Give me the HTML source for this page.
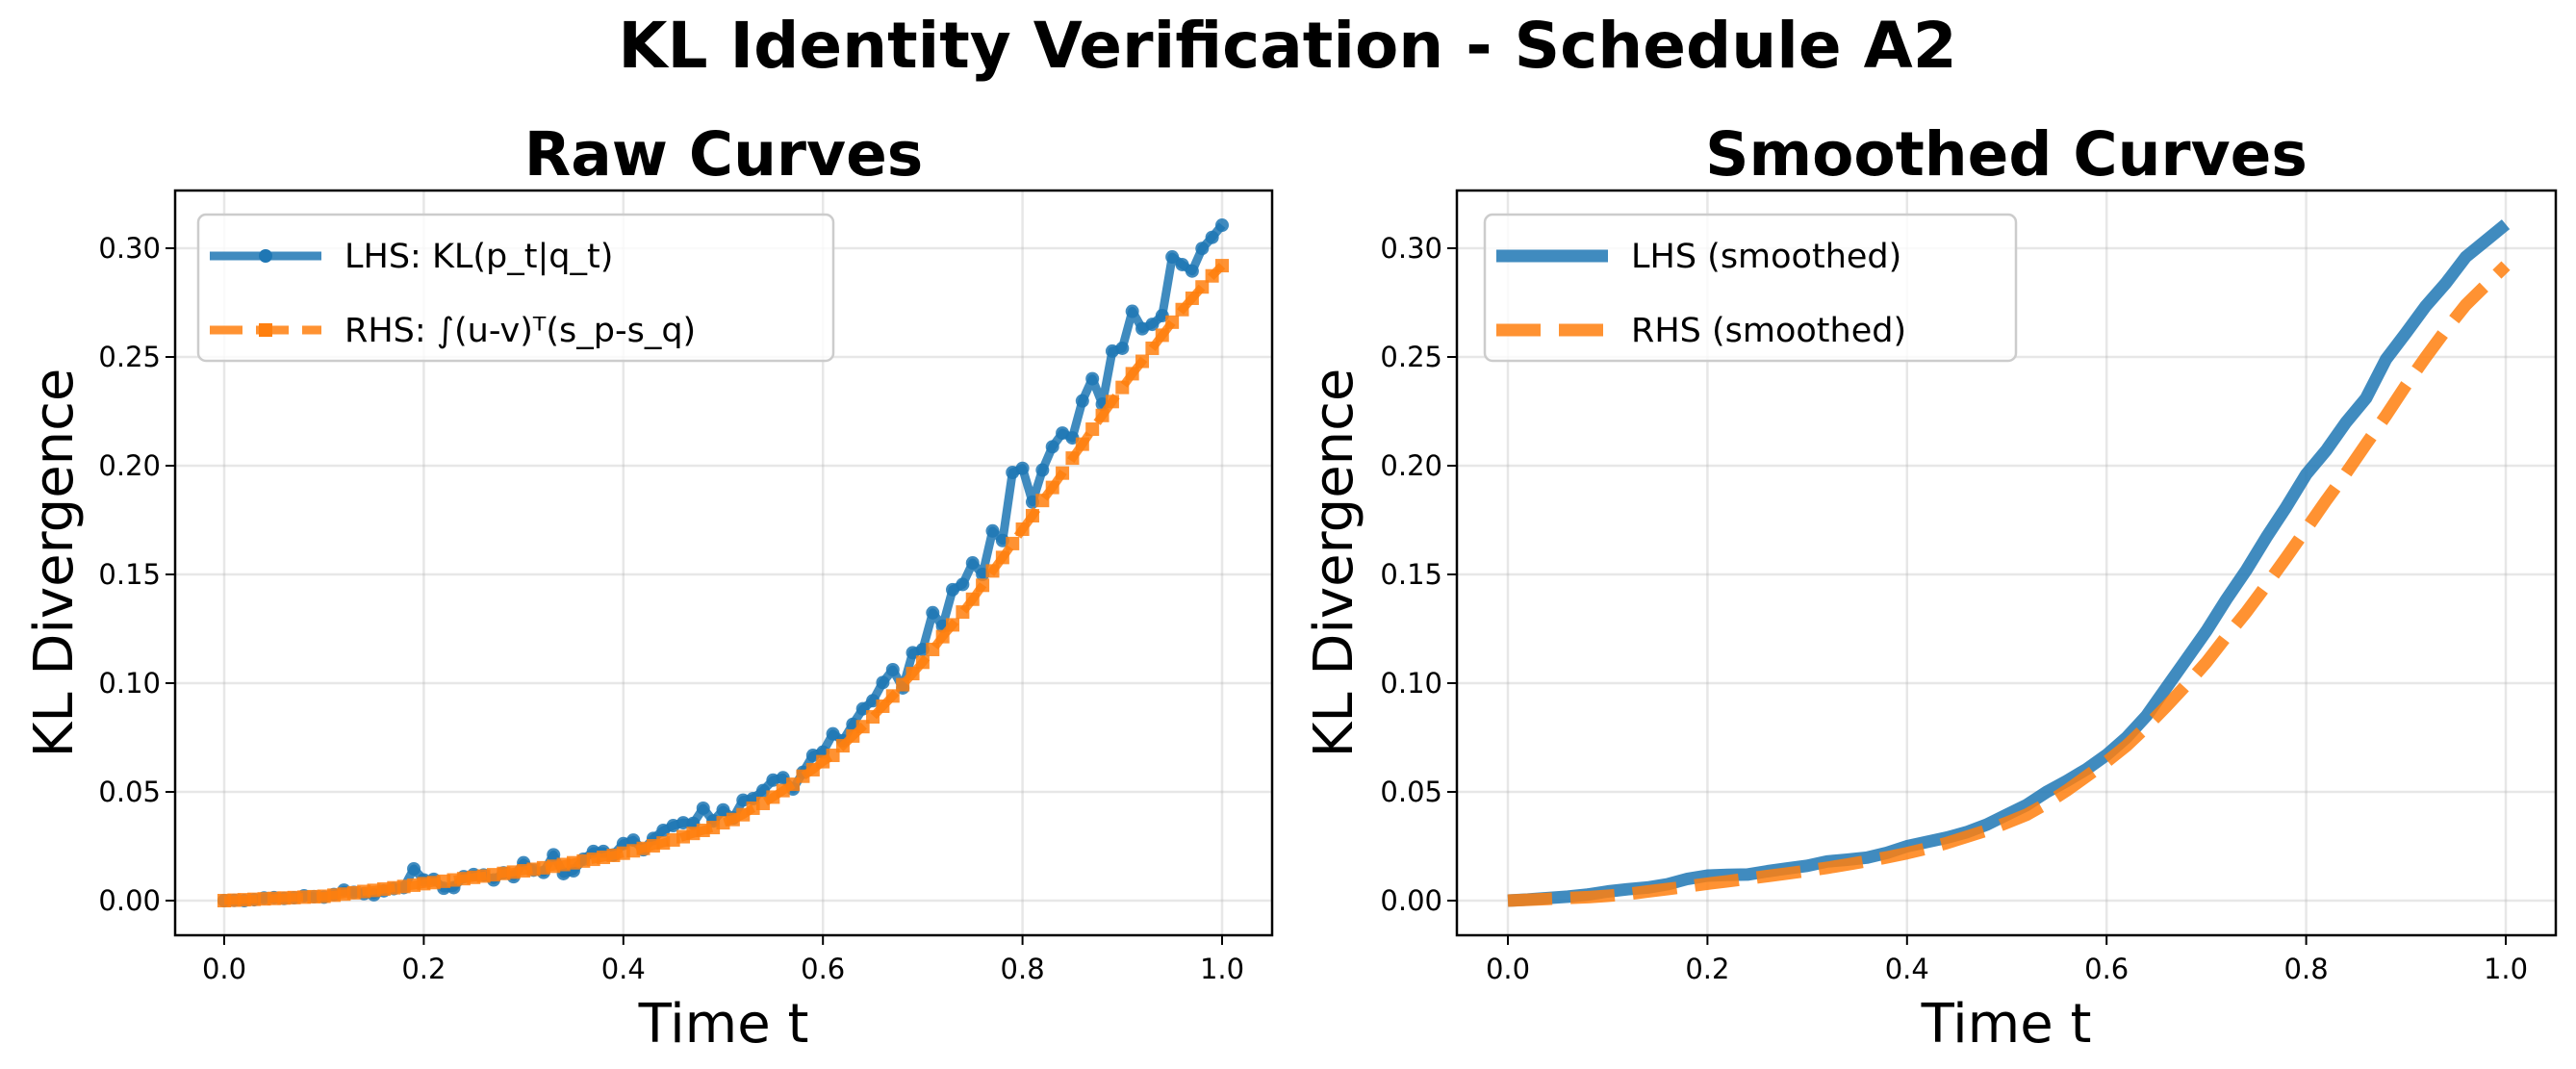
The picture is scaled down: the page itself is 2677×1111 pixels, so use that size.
<!DOCTYPE html>
<html><head><meta charset="utf-8"><style>
html,body{margin:0;padding:0;background:#fff;}
svg{display:block;font-family:"DejaVu Sans","Liberation Sans",sans-serif;}
</style></head><body>
<svg id="fig" width="2677" height="1111" viewBox="0 0 2677 1111" xmlns="http://www.w3.org/2000/svg">
<text x="1338" y="70" text-anchor="middle" font-size="66" font-weight="bold">KL Identity Verification - Schedule A2</text>
</svg>
<script>
const tRaw = [0,0.01,0.02,0.03,0.04,0.05,0.06,0.07,0.08,0.09,0.1,0.11,0.12,0.13,0.14,0.15,0.16,0.17,0.18,0.19,0.2,0.21,0.22,0.23,0.24,0.25,0.26,0.27,0.28,0.29,0.3,0.31,0.32,0.33,0.34,0.35,0.36,0.37,0.38,0.39,0.4,0.41,0.42,0.43,0.44,0.45,0.46,0.47,0.48,0.49,0.5,0.51,0.52,0.53,0.54,0.55,0.56,0.57,0.58,0.59,0.6,0.61,0.62,0.63,0.64,0.65,0.66,0.67,0.68,0.69,0.7,0.71,0.72,0.73,0.74,0.75,0.76,0.77,0.78,0.79,0.8,0.81,0.82,0.83,0.84,0.85,0.86,0.87,0.88,0.89,0.9,0.91,0.92,0.93,0.94,0.95,0.96,0.97,0.98,0.99,1.0];
const lhsRaw = [0,0.0001,0.0000,0.0004,0.0012,0.0014,0.0010,0.0013,0.0022,0.0018,0.0016,0.0028,0.0048,0.0038,0.0032,0.0027,0.0045,0.0055,0.0060,0.0146,0.0095,0.0098,0.0057,0.0060,0.0110,0.0120,0.0118,0.0095,0.0128,0.0110,0.0174,0.0140,0.0130,0.0211,0.0124,0.0137,0.0190,0.0226,0.0226,0.0210,0.0262,0.0278,0.0234,0.0286,0.0323,0.0345,0.0358,0.0355,0.0425,0.0366,0.0417,0.0380,0.0462,0.0469,0.0506,0.0554,0.0565,0.0513,0.0590,0.0668,0.0683,0.0767,0.0735,0.0811,0.0882,0.0919,0.1003,0.1062,0.0978,0.1140,0.1155,0.1324,0.1262,0.1430,0.1454,0.1553,0.1500,0.1700,0.1656,0.1969,0.1988,0.1833,0.1980,0.2087,0.2150,0.2128,0.2298,0.2400,0.2283,0.2527,0.2540,0.2710,0.2630,0.2650,0.2690,0.2960,0.2925,0.2895,0.2999,0.3050,0.3106];
const rhsRaw = [0,0.0002,0.0004,0.0006,0.0008,0.0010,0.0012,0.0014,0.0016,0.0018,0.0020,0.0025,0.0030,0.0036,0.0042,0.0047,0.0053,0.0059,0.0065,0.0071,0.0078,0.0083,0.0089,0.0095,0.0101,0.0107,0.0113,0.0119,0.0125,0.0131,0.0137,0.0144,0.0151,0.0158,0.0166,0.0174,0.0182,0.0190,0.0199,0.0208,0.0218,0.0229,0.0240,0.0252,0.0265,0.0279,0.0294,0.0309,0.0323,0.0336,0.0358,0.0373,0.0395,0.0425,0.0447,0.0476,0.0506,0.0535,0.0572,0.0602,0.0639,0.0668,0.0712,0.0757,0.0800,0.0845,0.0894,0.0941,0.0993,0.1044,0.1096,0.1155,0.1214,0.1268,0.1327,0.1386,0.1450,0.1516,0.1578,0.1642,0.1708,0.1770,0.1840,0.1900,0.1966,0.2035,0.2099,0.2168,0.2231,0.2295,0.2360,0.2423,0.2480,0.2540,0.2600,0.2660,0.2718,0.2770,0.2822,0.2873,0.2920];
const tSm = [0,0.02,0.04,0.06,0.08,0.1,0.12,0.14,0.16,0.18,0.2,0.22,0.24,0.26,0.28,0.3,0.32,0.34,0.36,0.38,0.4,0.42,0.44,0.46,0.48,0.5,0.52,0.54,0.56,0.58,0.6,0.62,0.64,0.66,0.68,0.7,0.72,0.74,0.76,0.78,0.8,0.82,0.84,0.86,0.88,0.9,0.92,0.94,0.96,0.98,1.0];
const lhsSm = [0,0.0005,0.0012,0.0018,0.0028,0.0042,0.0052,0.0060,0.0075,0.0100,0.0115,0.0118,0.0120,0.0135,0.0148,0.0160,0.0180,0.0188,0.0198,0.0220,0.0250,0.0270,0.0290,0.0315,0.0350,0.0395,0.0440,0.0500,0.0550,0.0605,0.0670,0.0750,0.0850,0.0980,0.1110,0.1240,0.1385,0.1520,0.1670,0.1810,0.1960,0.2070,0.2200,0.2310,0.2490,0.2610,0.2735,0.2840,0.2960,0.3035,0.3110];
const rhsSm = [0,0.0004,0.0008,0.0012,0.0016,0.0022,0.0030,0.0042,0.0053,0.0065,0.0078,0.0089,0.0101,0.0113,0.0125,0.0137,0.0151,0.0166,0.0182,0.0199,0.0218,0.0240,0.0265,0.0294,0.0323,0.0358,0.0395,0.0447,0.0506,0.0572,0.0639,0.0712,0.0800,0.0894,0.0993,0.1096,0.1214,0.1327,0.1450,0.1578,0.1708,0.1840,0.1966,0.2099,0.2231,0.2370,0.2500,0.2625,0.2740,0.2830,0.2920];
const xTicks = [0,0.2,0.4,0.6,0.8,1.0];
const xTickLabels = ["0.0","0.2","0.4","0.6","0.8","1.0"];
const yTicks = [0,0.05,0.1,0.15,0.2,0.25,0.3];
const yTickLabels = ["0.00","0.05","0.10","0.15","0.20","0.25","0.30"];

const NS = "http://www.w3.org/2000/svg";
const fig = document.getElementById('fig');
function mk(tag, attrs, parent){ const e=document.createElementNS(NS,tag); for(const k in attrs) e.setAttribute(k,attrs[k]); (parent||fig).appendChild(e); return e; }

function panel(cfg){
  const L=cfg.left,R=cfg.right,T=198,B=972;
  const sx = t => cfg.x0 + (cfg.x1-cfg.x0)*t;
  const sy = v => 936 - v*2260;
  const g = mk('g',{});
  
  
  xTicks.forEach(t=>{ const l=mk('line',{x1:sx(t),x2:sx(t),y1:T,y2:B,stroke:'#b0b0b0','stroke-opacity':0.3,'stroke-width':2.5},g);
      });
  yTicks.forEach(v=>{ const l=mk('line',{x1:L,x2:R,y1:sy(v),y2:sy(v),stroke:'#b0b0b0','stroke-opacity':0.3,'stroke-width':2.5},g);
      });
  cfg.series.forEach(s=>{
    const pts = s.t.map((t,i)=>sx(t).toFixed(1)+','+sy(s.v[i]).toFixed(1)).join(' ');
    const pl = mk('polyline',{points:pts,fill:'none',stroke:s.color,'stroke-width':s.w,'stroke-opacity':0.85,'stroke-linejoin':'round','stroke-dasharray':s.dash||'none'},g);
    
    
    if(s.marker){
      s.t.forEach((t,i)=>{
        let m;
        if(s.marker==='o') m = mk('circle',{cx:sx(t),cy:sy(s.v[i]),r:7,fill:s.color,'fill-opacity':0.85},g);
        else m = mk('rect',{x:sx(t)-7,y:sy(s.v[i])-7,width:14,height:14,fill:s.color,'fill-opacity':0.85},g);
        
        
      });
    }
  });
  const fr = mk('rect',{x:L,y:T,width:R-L,height:B-T,fill:'none',stroke:'#000','stroke-width':2.5},g);
   
  xTicks.forEach((t,i)=>{
    mk('line',{x1:sx(t),x2:sx(t),y1:B,y2:B+10,stroke:'#000','stroke-width':2},g);
    const tx=mk('text',{x:sx(t),y:B+45,'text-anchor':'middle','font-size':29},g); tx.textContent=xTickLabels[i];
     
  });
  yTicks.forEach((v,i)=>{
    mk('line',{x1:L-10,x2:L,y1:sy(v),y2:sy(v),stroke:'#000','stroke-width':2},g);
    const tx=mk('text',{x:L-15,y:sy(v)+10,'text-anchor':'end','font-size':29},g); tx.textContent=yTickLabels[i];
     
  });
  const ti=mk('text',{x:(L+R)/2,y:182,'text-anchor':'middle','font-size':63,'font-weight':'bold'},g); ti.textContent=cfg.title;
   
  const xl=mk('text',{x:(L+R)/2,y:1083,'text-anchor':'middle','font-size':56},g); xl.textContent='Time t';
   
  const yl=mk('text',{x:0,y:0,'text-anchor':'middle','font-size':56,transform:`translate(${cfg.ylabX},${(T+B)/2}) rotate(-90)`},g); yl.textContent='KL Divergence';
   
  const lg = cfg.legend;
  const box=mk('rect',{x:lg.x,y:223,width:lg.w,height:152,rx:8,fill:'#fff','fill-opacity':0.8,stroke:'#cccccc','stroke-width':2.5},g);
   
  cfg.series.forEach((s,i)=>{
    const y = 266 + i*77;
    const ln=mk('line',{x1:lg.x+12,x2:lg.x+128,y1:y,y2:y,stroke:s.color,'stroke-width':s.w,'stroke-opacity':0.85,'stroke-dasharray':s.dash||'none'},g);
     
    if(s.marker==='o') mk('circle',{cx:lg.x+70,cy:y,r:7,fill:s.color},g);
    else if(s.marker) mk('rect',{x:lg.x+63,y:y-7,width:14,height:14,fill:s.color},g);
    const tx=mk('text',{x:lg.x+152,y:y+12,'font-size':35},g); tx.textContent=s.label;
     
  });
}
panel({name:'raw-curves-panel',left:182,right:1322,x0:233,x1:1270,title:'Raw Curves',ylabX:75,legend:{x:206,w:660},
  series:[{name:'lhs-raw-line',t:tRaw,v:lhsRaw,color:'#1f77b4',w:9,marker:'o',label:'LHS: KL(p_t|q_t)'},
          {name:'rhs-raw-line',t:tRaw,v:rhsRaw,color:'#ff7f0e',w:9,marker:'s',dash:'34 14',label:'RHS: ∫(u-v)ᵀ(s_p-s_q)'}]});
panel({name:'smoothed-curves-panel',left:1514,right:2656,x0:1567,x1:2604,title:'Smoothed Curves',ylabX:1405,legend:{x:1543,w:552},
  series:[{name:'lhs-smoothed-line',t:tSm,v:lhsSm,color:'#1f77b4',w:13,label:'LHS (smoothed)'},
          {name:'rhs-smoothed-line',t:tSm,v:rhsSm,color:'#ff7f0e',w:13,dash:'46 19',label:'RHS (smoothed)'}]});
</script>
</body></html>
